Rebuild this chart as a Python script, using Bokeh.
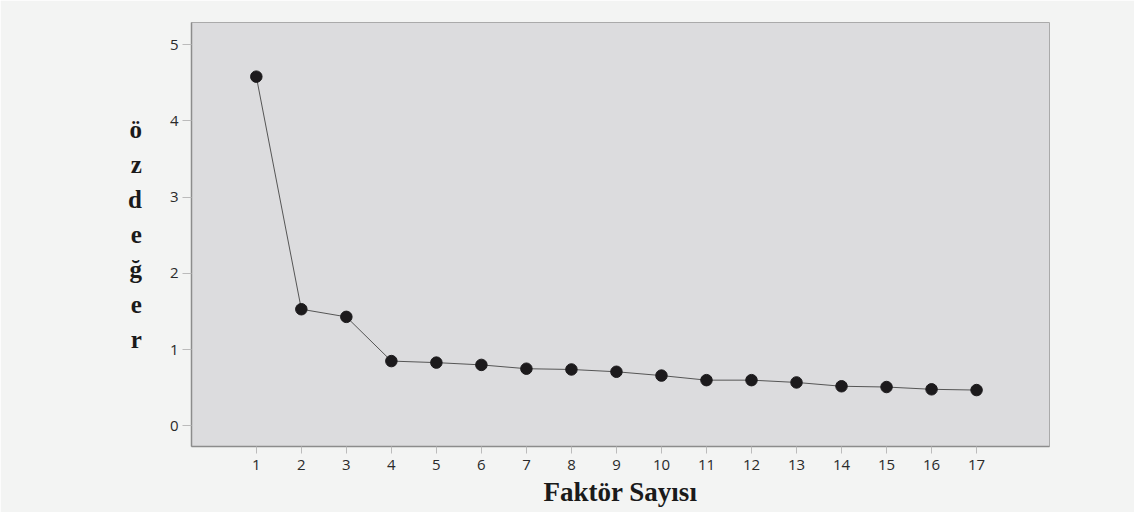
from bokeh.plotting import figure
from bokeh.models import FixedTicker, Range1d
from bokeh.embed import file_html
from bokeh.resources import INLINE

factors = list(range(1, 18))
eigenvalues = [4.58, 1.53, 1.43, 0.85, 0.83, 0.80, 0.75, 0.74, 0.71, 0.66,
               0.60, 0.60, 0.57, 0.52, 0.51, 0.48, 0.47]
x_ticks = list(range(1, 18))
y_ticks = [0, 1, 2, 3, 4, 5]
x_title = "Faktör Sayısı"
y_title = "ö\nz\nd\ne\nğ\ne\nr"

p = figure(width=1134, height=512, output_backend="svg", toolbar_location=None,
           x_range=Range1d(-0.44, 18.62), y_range=Range1d(-0.27, 5.29),
           min_border_left=191, min_border_top=22, min_border_right=85, min_border_bottom=66)
p.border_fill_color = "#f3f4f3"
p.background_fill_color = "#dcdcde"
p.outline_line_color = "#aaaaaa"
p.grid.visible = False

p.line(factors, eigenvalues, line_color="#555555", line_width=1)
p.scatter(factors, eigenvalues, size=11.5, fill_color="#1c1a1c", line_color="#1c1a1c")

for ax in (p.xaxis, p.yaxis):
    ax.axis_line_color = "#8c8c8c"
    ax.axis_line_width = 1.5
    ax.major_tick_line_color = "#bbbbbb"
    ax.major_tick_in = 0
    ax.minor_tick_line_color = None
    ax.major_label_text_font = "Open Sans"
    ax.major_label_text_font_size = "15px"
    ax.major_label_text_color = "#2a2a2a"
    ax.axis_label_text_font = "Liberation Serif"
    ax.axis_label_text_font_style = "bold"
    ax.axis_label_text_color = "#1a1a1a"

p.xaxis.ticker = FixedTicker(ticks=x_ticks)
p.yaxis.ticker = FixedTicker(ticks=y_ticks)
p.xaxis.major_tick_out = 7
p.yaxis.major_tick_out = 9
p.xaxis.major_label_standoff = 6
p.yaxis.major_label_standoff = 4

p.xaxis.axis_label = x_title
p.xaxis.axis_label_text_font_size = "27px"
p.xaxis.axis_label_standoff = 4
p.yaxis.axis_label = y_title
p.yaxis.axis_label_orientation = "horizontal"
p.yaxis.axis_label_text_font_size = "25px"
p.yaxis.axis_label_text_line_height = 1.3
p.yaxis.axis_label_standoff = 25

open("out.html", "w").write(file_html(p, INLINE))
